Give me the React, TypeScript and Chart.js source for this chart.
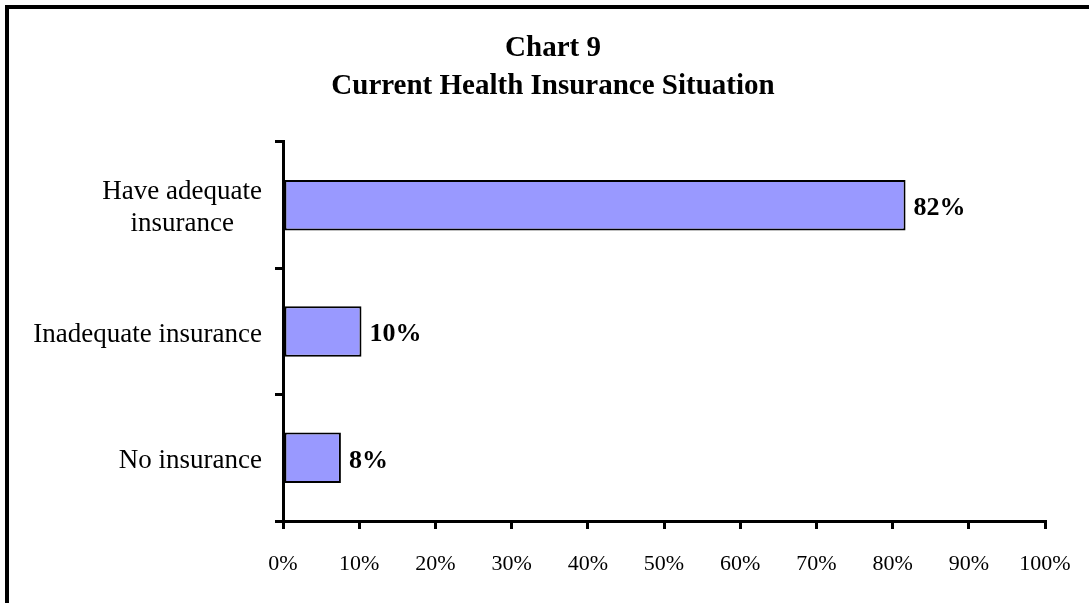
import React, { useEffect, useRef } from "react";
import { Chart, registerables } from "chart.js";

Chart.register(...registerables);

const titleLines = ["Chart 9", "Current Health Insurance Situation"];
const categories: string[][] = [["Have adequate", "insurance"], ["Inadequate insurance"], ["No insurance"]];
const shares = [81.7, 10.3, 7.6];
const xMin = 0;
const xMax = 100;
const xStep = 10;

const FONT = "'Liberation Serif', 'Times New Roman', serif";

const yLabelPlugin = {
  id: "yLabels",
  afterDraw(chart: any) {
    const ctx = chart.ctx;
    const ys = chart.scales.y;
    ctx.save();
    ctx.font = `27px ${FONT}`;
    ctx.fillStyle = "#000";
    ctx.textAlign = "center";
    ctx.textBaseline = "middle";
    const right = ys.right - 21;
    const lh = 32;
    categories.forEach((lines, i) => {
      const y = ys.getPixelForValue(i) + 3;
      const w = Math.max(...lines.map((l) => ctx.measureText(l).width));
      const cx = right - w / 2;
      lines.forEach((l, j) => ctx.fillText(l, cx, y + (j - (lines.length - 1) / 2) * lh));
    });
    ctx.restore();
  },
};

const valueLabelPlugin = {
  id: "valueLabels",
  afterDatasetsDraw(chart: any) {
    const ctx = chart.ctx;
    const meta = chart.getDatasetMeta(0);
    ctx.save();
    ctx.font = `bold 26px ${FONT}`;
    ctx.fillStyle = "#000";
    ctx.textAlign = "left";
    ctx.textBaseline = "middle";
    meta.data.forEach((bar: any, i: number) => {
      ctx.fillText(Math.round(shares[i]) + "%", bar.x + 8, bar.y + 3);
    });
    ctx.restore();
  },
};

export default function App() {
  const ref = useRef<HTMLCanvasElement>(null);

  useEffect(() => {
    if (!ref.current) return;
    const chart = new Chart(ref.current, {
      type: "bar",
      data: {
        labels: categories as any,
        datasets: [
          {
            data: shares,
            backgroundColor: "#9999FF",
            borderColor: "#000",
            borderWidth: 2,
            borderSkipped: false,
            barPercentage: 0.4,
            categoryPercentage: 1,
          },
        ],
      },
      options: {
        indexAxis: "y",
        responsive: false,
        animation: false,
        events: [],
        layout: { padding: 0 },
        plugins: {
          legend: { display: false },
          tooltip: { enabled: false },
          title: {
            display: true,
            text: titleLines,
            color: "#000",
            font: { family: FONT, size: 29, weight: "bold", lineHeight: 1.31 },
            padding: { top: 21, bottom: 36 },
          },
        },
        scales: {
          x: {
            type: "linear",
            min: xMin,
            max: xMax,
            position: "bottom",
            grid: {
              drawOnChartArea: false,
              drawTicks: true,
              tickLength: 8,
              lineWidth: 3,
              color: "#000",
            },
            border: { display: true, color: "#000", width: 3 },
            ticks: {
              stepSize: xStep,
              color: "#000",
              padding: 22,
              font: { family: FONT, size: 22 },
              callback: (v: any) => v + "%",
            },
            afterFit: (s: any) => {
              s.height = 82;
            },
          },
          y: {
            type: "category",
            position: "left",
            grid: {
              offset: true,
              drawOnChartArea: false,
              drawTicks: true,
              tickLength: 8,
              lineWidth: 3,
              color: "#000",
            },
            border: { display: true, color: "#000", width: 3 },
            ticks: { display: false },
            afterFit: (s: any) => {
              s.width = 274;
            },
          },
          r: {
            type: "linear",
            position: "right",
            display: true,
            grid: { display: false, drawTicks: false },
            border: { display: false },
            ticks: { display: false },
            afterFit: (s: any) => {
              s.width = 52;
            },
          },
        },
      },
      plugins: [yLabelPlugin, valueLabelPlugin],
    } as any);
    return () => chart.destroy();
  }, []);

  return (
    <div
      style={{
        position: "fixed",
        left: 0,
        top: 0,
        width: 1089,
        height: 603,
        overflow: "hidden",
        background: "#fff",
      }}
    >
      <div
        style={{
          position: "absolute",
          left: 5,
          top: 5,
          width: 1088,
          height: 620,
          border: "4px solid #000",
          background: "#fff",
        }}
      >
        <canvas ref={ref} width={1088} height={594} style={{ display: "block" }} />
      </div>
    </div>
  );
}
